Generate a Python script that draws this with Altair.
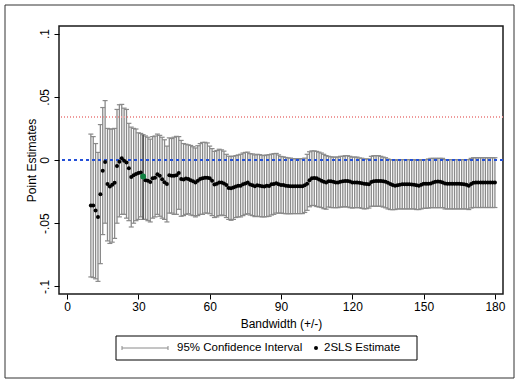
import altair as alt
import pandas as pd

# ---------------- data ----------------
BANDWIDTH = list(range(10, 181))

ESTIMATE = [
    -0.036, -0.036, -0.040, -0.045, -0.027, -0.0085, -0.0015, -0.019, -0.021, -0.0195,   # 10-19
    -0.018, -0.0047, -0.0013, 0.0013, -0.0006, -0.002, -0.0066, -0.0134, -0.012, -0.011,   # 20-29
    -0.0103, -0.0098, -0.013, -0.016, -0.0165, -0.0175, -0.0145, -0.014, -0.0112, -0.0124, # 30-39
    -0.0152, -0.0176, -0.019, -0.012, -0.0124, -0.0124, -0.012, -0.0103, -0.015, -0.0155,  # 40-49
    -0.0147, -0.015, -0.016, -0.0168, -0.0177, -0.0165, -0.015, -0.0145, -0.014, -0.014,   # 50-59
    -0.0145, -0.0165, -0.0193, -0.0188, -0.0178, -0.0177, -0.0185, -0.0198, -0.0222, -0.0224,  # 60-69
    -0.0218, -0.021, -0.0203, -0.0203, -0.0192, -0.0185, -0.0177, -0.0194, -0.0200, -0.0208,   # 70-79
    -0.0200, -0.0203, -0.0208, -0.0210, -0.0203, -0.0205, -0.0192, -0.0190, -0.0183, -0.0192,  # 80-89
    -0.0198, -0.0198, -0.0203, -0.0205, -0.0208, -0.0208, -0.0208, -0.0208, -0.0208, -0.0208,  # 90-99
    -0.0200, -0.0187, -0.0160, -0.0145, -0.0142, -0.0145, -0.0155, -0.0165, -0.0172, -0.0177,  # 100-109
    -0.0168, -0.0168, -0.0172, -0.0177, -0.0177, -0.0172, -0.0168, -0.0166, -0.0166, -0.0170,  # 110-119
    -0.0177, -0.0177, -0.0177, -0.0180, -0.0183, -0.0187, -0.0189, -0.0192, -0.0175, -0.0168,  # 120-129
    -0.0166, -0.0166, -0.0166, -0.0168, -0.0172, -0.0180, -0.0190, -0.0198, -0.0203, -0.0200,  # 130-139
    -0.0196, -0.0192, -0.0192, -0.0192, -0.0192, -0.0194, -0.0196, -0.0200, -0.0203, -0.0195,  # 140-149
    -0.0188, -0.0187, -0.0187, -0.0185, -0.0177, -0.0172, -0.0171, -0.0173, -0.0177, -0.0185,  # 150-159
    -0.0187, -0.0187, -0.0187, -0.0187, -0.0187, -0.0188, -0.0190, -0.0192, -0.0195, -0.0203,  # 160-169
    -0.0190, -0.0180, -0.0177, -0.0177, -0.0177, -0.0177, -0.0177, -0.0177, -0.0177, -0.0177,  # 170-179
    -0.0177,                                                                                  # 180
]

CI_UPPER = [
    0.0205, 0.0185, 0.013, 0.006, 0.028, 0.0415, 0.047, 0.025, 0.0245, 0.0245,
    0.025, 0.040, 0.0437, 0.044, 0.041, 0.040, 0.029, 0.026, 0.025, 0.0245,
    0.0215, 0.021, 0.020, 0.019, 0.018, 0.0165, 0.0185, 0.019, 0.0205, 0.0195,
    0.018, 0.016, 0.011, 0.0175, 0.017, 0.018, 0.0187, 0.0185, 0.0155, 0.013,
    0.0125, 0.012, 0.0115, 0.0105, 0.0095, 0.0113, 0.013, 0.0139, 0.014, 0.0135,
    0.011, 0.009, 0.0068, 0.0075, 0.0085, 0.008, 0.007, 0.0045, 0.003, 0.0028,
    0.003, 0.0035, 0.004, 0.0045, 0.0055, 0.006, 0.0062, 0.005, 0.0048, 0.004,
    0.0045, 0.0042, 0.0038, 0.0035, 0.004, 0.0042, 0.0046, 0.005, 0.0052, 0.004,
    0.0028, 0.0025, 0.002, 0.0016, 0.0015, 0.001, 0.001, 0.001, 0.001, 0.001,
    0.0015, 0.0045, 0.0065, 0.0072, 0.0072, 0.0068, 0.0062, 0.0055, 0.0045, 0.0035,
    0.0029, 0.0025, 0.0023, 0.0023, 0.0023, 0.0029, 0.0029, 0.0034, 0.0034, 0.0029,
    0.0023, 0.0023, 0.0023, 0.0016, 0.0014, 0.0008, 0.0008, 0.0008, 0.0029, 0.0034,
    0.0034, 0.0034, 0.0029, 0.0023, 0.0018, 0.0008, 0.0003, 0.0, -0.0003, 0.0003,
    0.0003, 0.0003, 0.0003, 0.0003, 0.0003, 0.0003, 0.0003, -0.0003, -0.0003, 0.0003,
    0.0003, 0.0003, 0.0008, 0.0013, 0.0013, 0.0013, 0.0013, 0.0013, 0.0013, 0.0003,
    0.0003, 0.0003, 0.0003, 0.0003, 0.0003, 0.0003, 0.0003, 0.0003, 0.0003, 0.0003,
    0.0013, 0.0018, 0.0018, 0.0018, 0.0018, 0.0018, 0.0018, 0.0018, 0.0018, 0.0018,
    0.0018,
]

CI_LOWER = [
    -0.0925, -0.093, -0.094, -0.096, -0.082, -0.059, -0.050, -0.064, -0.066, -0.065,
    -0.062, -0.050, -0.045, -0.043, -0.043, -0.046, -0.048, -0.053, -0.050, -0.048,
    -0.047, -0.045, -0.047, -0.047, -0.048, -0.049, -0.046, -0.045, -0.043, -0.0445,
    -0.046, -0.047, -0.049, -0.042, -0.042, -0.043, -0.043, -0.039, -0.0445, -0.044,
    -0.043, -0.0425, -0.0435, -0.044, -0.045, -0.044, -0.043, -0.043, -0.042, -0.042,
    -0.0425, -0.044, -0.0455, -0.045, -0.044, -0.0435, -0.044, -0.0455, -0.047, -0.0477,
    -0.047, -0.0455, -0.045, -0.045, -0.044, -0.043, -0.0425, -0.0435, -0.044, -0.0448,
    -0.0445, -0.0448, -0.045, -0.045, -0.0448, -0.0445, -0.0435, -0.043, -0.042, -0.042,
    -0.042, -0.0423, -0.0425, -0.0425, -0.0425, -0.0424, -0.0424, -0.0424, -0.0424, -0.0424,
    -0.0415, -0.0398, -0.037, -0.036, -0.036, -0.0368, -0.0372, -0.0376, -0.0385, -0.0389,
    -0.0372, -0.0376, -0.0377, -0.0377, -0.0377, -0.0372, -0.0372, -0.0369, -0.0372, -0.0377,
    -0.0380, -0.0377, -0.0377, -0.0377, -0.0382, -0.0387, -0.0385, -0.0380, -0.0366, -0.0366,
    -0.0366, -0.0366, -0.0366, -0.0372, -0.0378, -0.0387, -0.0392, -0.0393, -0.0392, -0.0387,
    -0.0387, -0.0387, -0.0387, -0.0387, -0.0387, -0.0387, -0.0387, -0.0392, -0.0392, -0.0387,
    -0.0382, -0.0382, -0.0380, -0.0377, -0.0377, -0.0377, -0.0377, -0.0377, -0.0377, -0.0387,
    -0.0387, -0.0387, -0.0387, -0.0387, -0.0387, -0.0387, -0.0387, -0.0387, -0.0387, -0.0392,
    -0.0380, -0.0376, -0.0376, -0.0376, -0.0376, -0.0376, -0.0376, -0.0376, -0.0376, -0.0376,
    -0.0376,
]

SELECTED_BW = 32
REF_ZERO = 0.0
REF_UPPER = 0.034

X_TICKS = [0, 30, 60, 90, 120, 150, 180]
Y_TICKS = [-0.1, -0.05, 0, 0.05, 0.1]
Y_TICK_LABELS = ["-.1", "-.05", "0", ".05", ".1"]
X_TITLE = "Bandwidth (+/-)"
Y_TITLE = "Point Estimates"
LEGEND_LABELS = ["95% Confidence Interval", "2SLS Estimate"]

# ---------------- chart ----------------
FONT = "Liberation Sans"
W, H = 444, 268
PAD_L, PAD_T = 59, 26
CI_GRAY = "#8a8a8a"

df = pd.DataFrame({"bw": BANDWIDTH, "est": ESTIMATE, "lo": CI_LOWER, "hi": CI_UPPER})
df_sel = df[df["bw"] == SELECTED_BW]

label_expr = " : ".join(
    f"datum.value == {v} ? '{l}'" for v, l in zip(Y_TICKS, Y_TICK_LABELS)
) + " : ''"

x_scale = alt.Scale(domain=[-3.4, 183.4], nice=False, zero=False)
y_scale = alt.Scale(domain=[-0.106, 0.106], nice=False, zero=False)

x_axis = alt.Axis(
    values=X_TICKS, grid=False, domain=False, tickSize=5, tickColor="black",
    labelFont=FONT, labelFontSize=12, labelColor="black", labelPadding=2,
    title=X_TITLE, titleFont=FONT, titleFontSize=12, titleFontWeight="normal",
    titleColor="black", titleY=33, titleBaseline="alphabetic",
)
y_axis = alt.Axis(
    values=Y_TICKS, grid=False, domain=False, tickSize=5, tickColor="black",
    labelExpr=label_expr, labelAngle=270, labelAlign="center", labelBaseline="bottom",
    labelFont=FONT, labelFontSize=12, labelColor="black", labelPadding=3,
    title=Y_TITLE, titleFont=FONT, titleFontSize=12, titleFontWeight="normal",
    titleColor="black", titleX=-21, titleY=H / 2, titleAngle=270,
    titleAlign="center", titleBaseline="bottom",
)

X = alt.X("bw:Q", scale=x_scale, axis=x_axis)

def Y(field):
    return alt.Y(f"{field}:Q", scale=y_scale, axis=y_axis)

base = alt.Chart(df)

ci_rules = base.mark_rule(color=CI_GRAY, strokeWidth=1.3).encode(
    x=X, y=Y("lo"), y2="hi:Q"
)
cap_shape = "M-1,0L1,0"
caps_hi = base.mark_point(shape=cap_shape, size=25, filled=False, color=CI_GRAY, strokeWidth=1.2, opacity=1).encode(
    x=X, y=Y("hi")
)
caps_lo = base.mark_point(shape=cap_shape, size=25, filled=False, color=CI_GRAY, strokeWidth=1.2, opacity=1).encode(
    x=X, y=Y("lo")
)
sel_rule = alt.Chart(df_sel).mark_rule(color="#5a5a5a", strokeWidth=1.8).encode(
    x=X, y=Y("lo"), y2="hi:Q"
)

zero_line = alt.Chart(df).mark_rule(color="#2450d8", strokeWidth=1.2, strokeDash=[3, 3]).encode(
    y=alt.datum(REF_ZERO, scale=y_scale, axis=y_axis)
)
upper_line = alt.Chart(df).mark_rule(color="#ee9a9a", strokeWidth=1, strokeDash=[1, 2]).encode(
    y=alt.datum(REF_UPPER, scale=y_scale, axis=y_axis)
)

points = base.mark_circle(color="black", size=16, opacity=1).encode(x=X, y=Y("est"))
sel_point = alt.Chart(df_sel).mark_circle(color="#0f8040", size=34, opacity=1).encode(x=X, y=Y("est"))

# ---------------- hand-drawn legend (below the plot) ----------------
one = pd.DataFrame({"label": [LEGEND_LABELS[0]]})
two = pd.DataFrame({"label": [LEGEND_LABELS[1]]})
LX0, LX1, LY0, LY1 = 57, 358, 310, 334
LYC = 322
leg_box = alt.Chart(one).mark_rect(filled=False, stroke="black", strokeWidth=1).encode(
    x=alt.value(LX0), x2=alt.value(LX1), y=alt.value(LY0), y2=alt.value(LY1)
)
leg_line = alt.Chart(one).mark_rule(color=CI_GRAY, strokeWidth=1).encode(
    x=alt.value(63), x2=alt.value(109), y=alt.value(LYC)
)
leg_cap1 = alt.Chart(one).mark_rule(color=CI_GRAY, strokeWidth=1).encode(
    x=alt.value(63), y=alt.value(LYC - 2), y2=alt.value(LYC + 2)
)
leg_cap2 = alt.Chart(one).mark_rule(color=CI_GRAY, strokeWidth=1).encode(
    x=alt.value(109), y=alt.value(LYC - 2), y2=alt.value(LYC + 2)
)
leg_text1 = alt.Chart(one).mark_text(align="left", baseline="middle", font=FONT, fontSize=11.5, color="black").encode(
    x=alt.value(118), y=alt.value(LYC), text="label:N"
)
leg_dot = alt.Chart(two).mark_circle(color="black", size=16, opacity=1).encode(
    x=alt.value(257), y=alt.value(LYC)
)
leg_text2 = alt.Chart(two).mark_text(align="left", baseline="middle", font=FONT, fontSize=11.5, color="black").encode(
    x=alt.value(265), y=alt.value(LYC), text="label:N"
)

outer = alt.Chart(one).mark_rect(filled=False, stroke="#333333", strokeWidth=1).encode(
    x=alt.value(5 - PAD_L), x2=alt.value(514 - PAD_L), y=alt.value(5 - PAD_T), y2=alt.value(378 - PAD_T)
)

chart = alt.layer(
    outer, ci_rules, caps_hi, caps_lo, sel_rule, upper_line, zero_line, points, sel_point,
    leg_box, leg_line, leg_cap1, leg_cap2, leg_text1, leg_dot, leg_text2,
).properties(
    width=W, height=H,
    padding={"left": PAD_L, "top": PAD_T, "right": 520 - PAD_L - W, "bottom": 383 - PAD_T - H},
    autosize=alt.AutoSizeParams(type="none"),
    background="white",
).configure_view(stroke="#1a1a1a", strokeWidth=1.5)

chart.save("out.html", embed_options={"renderer": "svg", "actions": False})
